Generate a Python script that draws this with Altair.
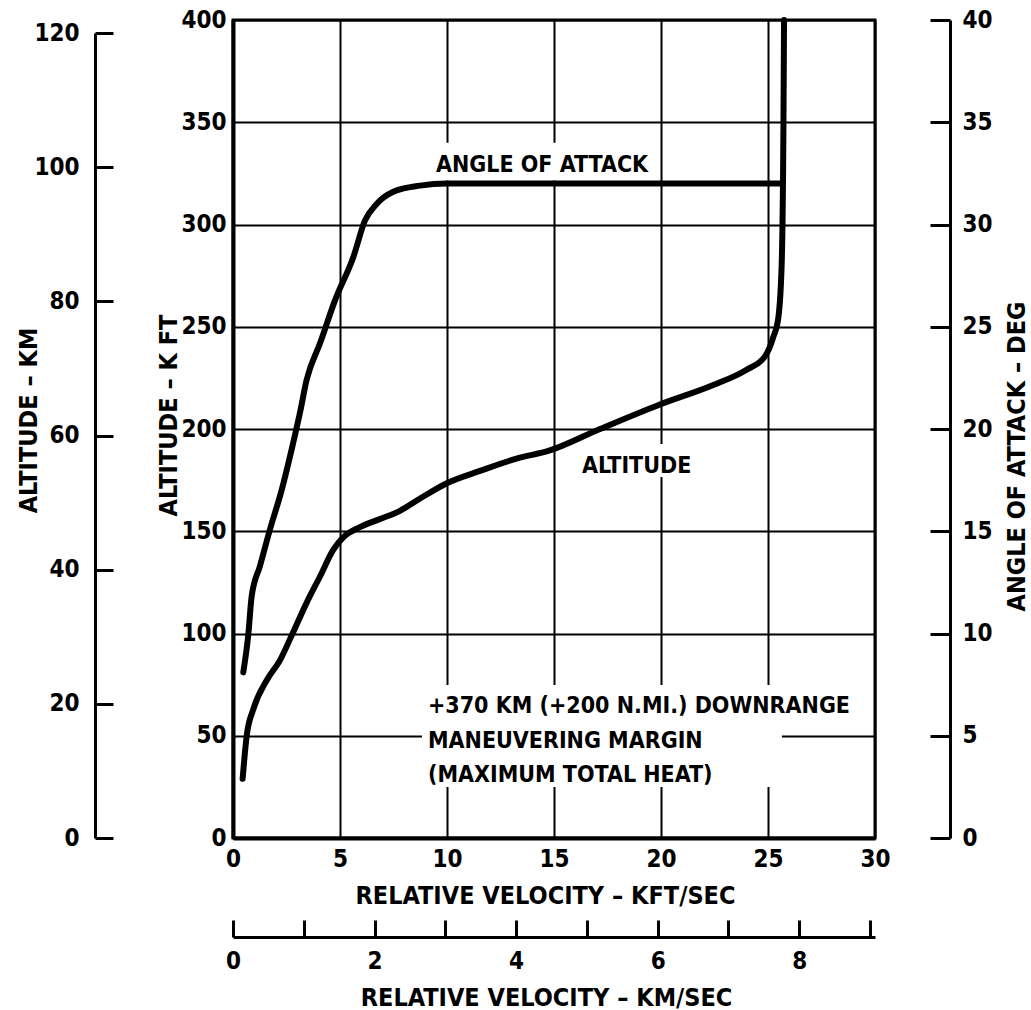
import altair as alt
import pandas as pd

# ---------------- data ----------------
alt_velocity = [0.45, 0.64, 0.95, 1.57, 2.2, 2.74, 3.44, 4.07, 4.69, 5.15, 5.93, 6.87,
                7.8, 8.74, 9.99, 11.54, 13.4, 14.66, 17.15, 19.95, 22.44, 24.0, 24.86,
                25.25, 25.49, 25.64, 25.72, 25.75]
alt_kft = [29, 50, 63, 77, 87, 99, 115, 128, 141, 147, 152, 156,
           160, 166, 173.5, 179.5, 186, 189, 200, 212, 221.5, 229, 235.5,
           245, 255, 281, 346, 400]

aoa_velocity = [0.48, 0.72, 0.87, 1.26, 1.73, 2.27, 2.74, 3.13, 3.44, 4.07, 4.77,
                5.62, 6.17, 6.71, 7.49, 8.74, 10.0, 15.0, 20.0, 25.55]
aoa_deg = [8.1, 10.0, 11.8, 13.3, 15.1, 17.0, 19.0, 20.8, 22.4, 24.2, 26.3,
           28.4, 30.2, 31.0, 31.6, 31.9, 32.0, 32.0, 32.0, 32.0]

kft_x_ticks = [0, 5, 10, 15, 20, 25, 30]
kft_y_ticks = [0, 50, 100, 150, 200, 250, 300, 350, 400]
km_ticks = [0, 20, 40, 60, 80, 100, 120]
deg_ticks = [0, 5, 10, 15, 20, 25, 30, 35, 40]
kms_ticks = [0, 1, 2, 3, 4, 5, 6, 7, 8, 9]
kms_labels = [0, 2, 4, 6, 8]

center_text = ["ANGLE OF ATTACK", "ALTITUDE"]
center_v = [14.44, 18.86]
center_h = [325.8, 178.3]

block_text = ["+370 KM (+200 N.MI.) DOWNRANGE", "MANEUVERING MARGIN", "(MAXIMUM TOTAL HEAT)"]
block_v = [9.11, 9.11, 9.11]
block_h = [61.1, 44.0, 27.4]

# white boxes behind the labels (where the grid is interrupted)
box_v1 = [9.2, 16.1, 8.83]
box_v2 = [19.6, 21.6, 25.65]
box_h1 = [321.5, 176.5, 24.9]
box_h2 = [340.0, 192.7, 74.8]

# ---------------- styling ----------------
F = "DejaVu Sans Condensed, Liberation Sans Narrow, Roboto, sans-serif"
LFS = 24   # tick labels
TFS = 25   # axis titles
AFS = 23   # annotations
W, H = 642, 818

alt_df = pd.DataFrame({"v": alt_velocity, "h": alt_kft})
aoa_df = pd.DataFrame({"v": aoa_velocity, "d": aoa_deg})
center_df = pd.DataFrame({"v": center_v, "h": center_h, "t": center_text})
block_df = pd.DataFrame({"v": block_v, "h": block_h, "t": block_text})
box_df = pd.DataFrame({"v1": box_v1, "v2": box_v2, "h1": box_h1, "h2": box_h2})
deg_df = pd.DataFrame({"d": deg_ticks})
km_df = pd.DataFrame({"k": km_ticks})
kms_df = pd.DataFrame({"s": kms_ticks})

xs = alt.Scale(domain=[0, 30], nice=False, zero=False)
ys = alt.Scale(domain=[0, 400], nice=False, zero=False)
ds = alt.Scale(domain=[0, 40], nice=False, zero=False)
kms = alt.Scale(domain=[0, 120], range=[H, 13], nice=False, zero=False)
ss = alt.Scale(domain=[0, 9.07], nice=False, zero=False)

# white knock-out boxes
boxes = alt.Chart(box_df).mark_rect(color="white").encode(
    x=alt.X("v1:Q", scale=xs, axis=None),
    x2="v2",
    y=alt.Y("h1:Q", scale=ys, axis=None),
    y2="h2",
)

# altitude curve carries the main axes and grid
altitude = alt.Chart(alt_df).mark_line(
    color="black", strokeWidth=6, interpolate="monotone", strokeCap="round"
).encode(
    x=alt.X("v:Q", scale=xs, axis=alt.Axis(
        orient="bottom", values=kft_x_ticks, grid=True, gridColor="black",
        gridWidth=2, gridOpacity=1, ticks=False, domainColor="black", domainWidth=4,
        labelPadding=9, labelFlush=False, labelOverlap=False,
        title="RELATIVE VELOCITY – KFT/SEC", titleX=312, titleY=65,
        titleAlign="center", titleBaseline="alphabetic")),
    y=alt.Y("h:Q", scale=ys, axis=alt.Axis(
        orient="left", values=kft_y_ticks, grid=True, gridColor="black",
        gridWidth=2, gridOpacity=1, ticks=False, domainColor="black", domainWidth=4,
        labelPadding=7, labelOverlap=False,
        title="ALTITUDE – K FT", titleX=-57, titleY=395, titleAngle=270,
        titleAlign="center", titleBaseline="alphabetic")),
)

aoa = alt.Chart(aoa_df).mark_line(
    color="black", strokeWidth=6, interpolate="monotone", strokeCap="round"
).encode(
    x=alt.X("v:Q", scale=xs, axis=None),
    y=alt.Y("d:Q", scale=ds, axis=alt.Axis(
        orient="right", offset=75, values=deg_ticks, grid=False, ticks=False,
        domain=False, labelPadding=12, labelOverlap=False,
        title="ANGLE OF ATTACK – DEG", titleX=74, titleY=436, titleAngle=270,
        titleAlign="center", titleBaseline="alphabetic")),
)

# angle-of-attack axis line with inward ticks
deg_line = alt.Chart(deg_df).mark_point(opacity=0).encode(
    y=alt.Y("d:Q", scale=ds, axis=alt.Axis(
        orient="left", offset=-(W + 75), values=deg_ticks, grid=False,
        ticks=True, tickSize=20, tickWidth=3, tickColor="black",
        domain=True, domainWidth=3, domainColor="black", labels=False, title=None)),
)

# altitude km axis: labels + title
km_labels = alt.Chart(km_df).mark_point(opacity=0).encode(
    y=alt.Y("k:Q", scale=kms, axis=alt.Axis(
        orient="left", offset=138, values=km_ticks, grid=False, ticks=False,
        domain=False, labelPadding=16, labelOverlap=False,
        title="ALTITUDE – KM", titleX=-59, titleY=400, titleAngle=270,
        titleAlign="center", titleBaseline="alphabetic")),
)

# altitude km axis: line with inward ticks
km_line = alt.Chart(km_df).mark_point(opacity=0).encode(
    y=alt.Y("k:Q", scale=kms, axis=alt.Axis(
        orient="right", offset=-(W + 138), values=km_ticks, grid=False,
        ticks=True, tickSize=18, tickWidth=3, tickColor="black",
        domain=True, domainWidth=3, domainColor="black", labels=False, title=None)),
)

# velocity km/sec axis: labels + title
kms_lab = alt.Chart(kms_df).mark_point(opacity=0).encode(
    x=alt.X("s:Q", scale=ss, axis=alt.Axis(
        orient="bottom", offset=99, values=kms_labels, grid=False, ticks=False,
        domain=False, labelPadding=12, labelFlush=False, labelOverlap=False,
        title="RELATIVE VELOCITY – KM/SEC", titleX=313, titleY=68,
        titleAlign="center", titleBaseline="alphabetic")),
)

# velocity km/sec axis: line with upward ticks
kms_line = alt.Chart(kms_df).mark_point(opacity=0).encode(
    x=alt.X("s:Q", scale=ss, axis=alt.Axis(
        orient="top", offset=-(H + 99), values=kms_ticks, grid=False,
        ticks=True, tickSize=17, tickWidth=3, tickColor="black",
        domain=True, domainWidth=3, domainColor="black", labels=False, title=None)),
)

center_lab = alt.Chart(center_df).mark_text(
    font=F, fontSize=AFS, fontWeight="bold", color="black", align="center",
    baseline="alphabetic"
).encode(
    x=alt.X("v:Q", scale=xs, axis=None),
    y=alt.Y("h:Q", scale=ys, axis=None),
    text="t:N",
)

block_lab = alt.Chart(block_df).mark_text(
    font=F, fontSize=AFS, fontWeight="bold", color="black", align="left",
    baseline="alphabetic"
).encode(
    x=alt.X("v:Q", scale=xs, axis=None),
    y=alt.Y("h:Q", scale=ys, axis=None),
    text="t:N",
)

chart = alt.layer(
    boxes, altitude, aoa, deg_line, km_labels, km_line, kms_lab, kms_line,
    center_lab, block_lab
).resolve_scale(
    x="independent", y="independent"
).properties(
    width=W, height=H,
    autosize=alt.AutoSizeParams(type="none"),
    padding={"left": 233, "top": 20, "right": 156, "bottom": 172},
    background="white",
).configure_axis(
    labelFont=F, labelFontSize=LFS, labelFontWeight="bold", labelColor="black",
    titleFont=F, titleFontSize=TFS, titleFontWeight="bold", titleColor="black",
    zindex=0,
).configure_view(
    stroke="black", strokeWidth=3,
)

chart.save("out.html", embed_options={"renderer": "svg", "actions": False})
